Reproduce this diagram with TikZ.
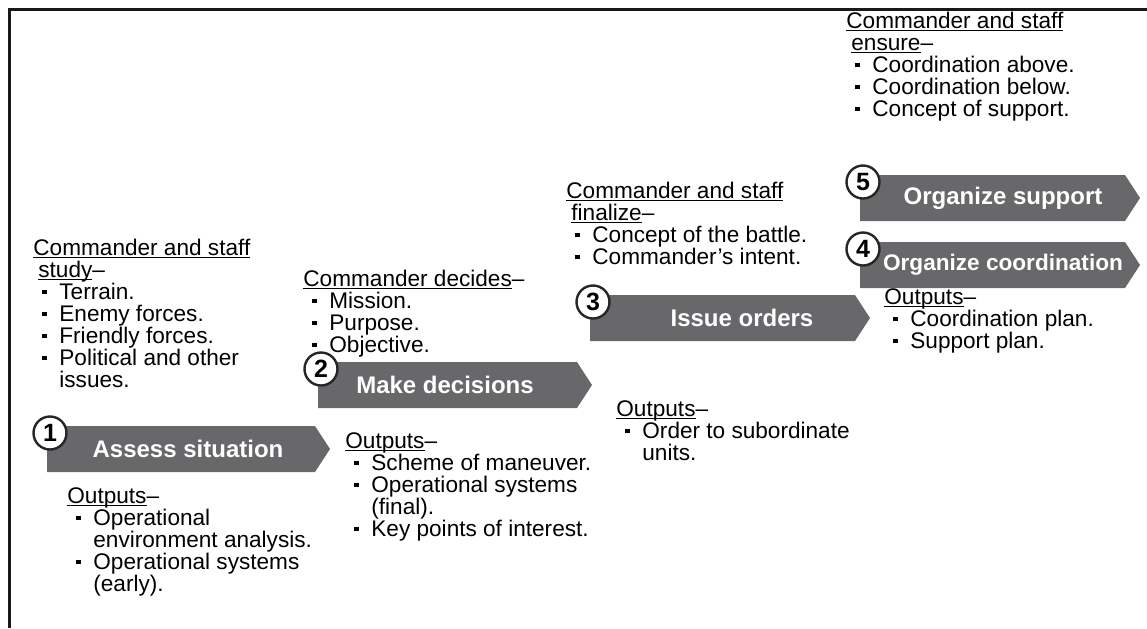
\documentclass[tikz,border=0pt]{standalone}
\usepackage{fontspec}
\setmainfont{Liberation Sans}
\usepackage{tikz}
\usepackage{xcolor}

\definecolor{stepgray}{RGB}{104,104,106}
\newsavebox\ulbox
\newcommand\ul[1]{\leavevmode\sbox\ulbox{#1}\rlap{\rule[-1.6pt]{\wd\ulbox}{0.55pt}}\usebox\ulbox}
\newcommand\notefont{\fontsize{11.3}{11}\selectfont\lineskiplimit=-6pt}
\newcommand\bitem[1]{\par\hangindent=13pt\hangafter=1\noindent\hspace*{4.5pt}\makebox[8.5pt][l]{\rule[0.22em]{0.2em}{0.2em}}#1}
\newcommand\notebox[1]{\parbox[t]{150pt}{\notefont\raggedright #1}}

\begin{document}
\begin{tikzpicture}[x=0.5pt,y=-0.5pt,
    notes/.style={anchor=base west,inner sep=0pt},
    steptext/.style={text=white,inner sep=0pt,font=\fontsize{12}{12}\selectfont\bfseries},
    numcircle/.style={circle,draw=black!85,line width=1.2pt,fill=white,minimum size=16.5pt,inner sep=0pt,font=\fontsize{12.5}{12}\selectfont\bfseries}]
    \useasboundingbox (0,0) rectangle (1147,628);
    \draw[line width=1.5pt,black!90] (9.5,628) -- (9.5,9.5) -- (1147,9.5);

    % the five steps
    \foreach \xa/\ya/\xb/\tx/\n/\txt in {47/426/330/188/1/Assess situation, 318/362/592/445/2/Make decisions, 590/295/870/742/3/Issue orders, 860/242/1140/1003/4/{\fontsize{11.3}{12}\selectfont Organize coordination}, 860/175/1140/1003/5/Organize support}
    {
        \fill[stepgray] (\xa,\ya) -- (\xb-15,\ya) -- (\xb,\ya+23) -- (\xb-15,\ya+46) -- (\xa,\ya+46) -- cycle;
        \node[steptext] (step\n) at (\tx,\ya+23) {\txt};
        \node[numcircle] (num\n) at (\xa+3,\ya+7) {\n};
    }

    \node[notes] (studynote) at (33,255) {\notebox{\ul{Commander and staff}\\\hspace*{2.5pt}\ul{study}–
        \bitem{Terrain.}\bitem{Enemy forces.}\bitem{Friendly forces.}\bitem{Political and other\newline issues.}}};
    \node[notes] (assessout) at (67,503) {\notebox{\ul{Outputs}–
        \bitem{Operational\newline environment analysis.}\bitem{Operational systems\newline (early).}}};

    \node[notes] (decidenote) at (303,286) {\notebox{\ul{Commander decides}–
        \bitem{Mission.}\bitem{Purpose.}\bitem{Objective.}}};
    \node[notes] (decideout) at (345,448) {\notebox{\ul{Outputs}–
        \bitem{Scheme of maneuver.}\bitem{Operational systems\newline (final).}\bitem{Key points of interest.}}};

    \node[notes] (ordernote) at (566,198) {\notebox{\ul{Commander and staff}\\\hspace*{2.5pt}\ul{finalize}–
        \bitem{Concept of the battle.}\bitem{Commander’s intent.}}};
    \node[notes] (orderout) at (616,416) {\notebox{\ul{Outputs}–
        \bitem{Order to subordinate\newline units.}}};

    \node[notes] (supportnote) at (846,28) {\notebox{\ul{Commander and staff}\\\hspace*{2.5pt}\ul{ensure}–
        \bitem{Coordination above.}\bitem{Coordination below.}\bitem{Concept of support.}}};
    \node[notes] (supportout) at (884,304) {\notebox{\ul{Outputs}–
        \bitem{Coordination plan.}\bitem{Support plan.}}};
\end{tikzpicture}
\end{document}
